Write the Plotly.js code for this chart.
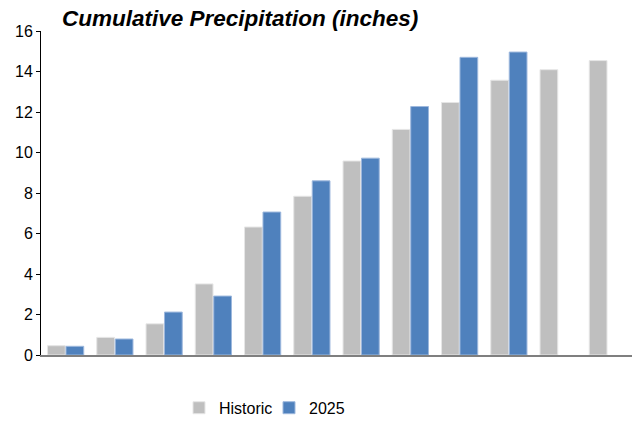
<!DOCTYPE html>
<html>
<head>
<meta charset="utf-8">
<script src="https://cdn.plot.ly/plotly-3.0.1.min.js"></script>
<style>html,body{margin:0;padding:0;background:#fff;}#chart{width:637px;height:421px;}</style>
</head>
<body>
<div id="chart"></div>
<script>
const categories = ["Jan","Feb","Mar","Apr","May","Jun","Jul","Aug","Sep","Oct","Nov","Dec"];
const historic = [0.46, 0.87, 1.54, 3.51, 6.32, 7.84, 9.58, 11.14, 12.47, 13.57, 14.09, 14.54];
const y2025 = [0.43, 0.79, 2.12, 2.91, 7.06, 8.60, 9.72, 12.27, 14.70, 14.96, null, null];
const yTicks = [0, 2, 4, 6, 8, 10, 12, 14, 16];

const traces = [
  {type:'bar', name:'Historic', x:categories, y:historic,
   marker:{color:'#BFBFBF', line:{color:'#E6E6E6', width:1}}},
  {type:'bar', name:'2025', x:categories, y:y2025,
   marker:{color:'#4F81BD', line:{color:'#9DB8DD', width:1}}}
];

const layout = {
  width:637, height:421,
  margin:{l:41, r:5, t:31, b:66, autoexpand:false},
  paper_bgcolor:'#fff', plot_bgcolor:'#fff',
  font:{family:'"Liberation Sans", Arial, sans-serif', size:16, color:'#000'},
  title:{text:'<b><i>Cumulative Precipitation (inches)</i></b>', x:62/637, xanchor:'left',
         yref:'container', y:1-18/421, yanchor:'middle',
         font:{family:'"Liberation Sans", Arial, sans-serif', size:22.5, color:'#000'}},
  barmode:'group', bargap:0.25, bargroupgap:0.04,
  xaxis:{showticklabels:false, ticks:'', showgrid:false, zeroline:false,
         showline:true, linecolor:'#7F7F7F', linewidth:2, fixedrange:true},
  yaxis:{range:[0,16], tickvals:yTicks, ticks:'outside', ticklen:4, tickcolor:'#000',
         showline:true, linecolor:'#000', linewidth:1, showgrid:false, zeroline:false,
         tickfont:{size:16, color:'#000'}},
  showlegend:true,
  legend:{orientation:'h', x:(179-41)/591, xanchor:'left', y:-0.163, yanchor:'middle',
          entrywidth:45, entrywidthmode:'pixels',
          font:{size:16, color:'#000'}, traceorder:'normal'}
};

Plotly.newPlot('chart', traces, layout, {displayModeBar:false, staticPlot:true});
</script>
</body>
</html>
